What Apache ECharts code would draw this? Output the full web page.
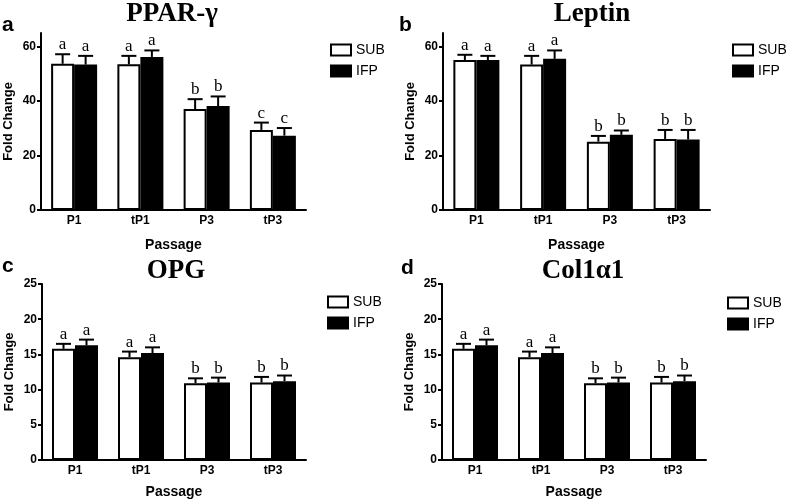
<!DOCTYPE html>
<html><head><meta charset="utf-8">
<script src="https://cdn.jsdelivr.net/npm/echarts@6/dist/echarts.min.js"></script>
<style>html,body{margin:0;padding:0;background:#fff}#c{width:787px;height:503px}</style>
</head><body><div id="c"></div>
<script>
// ---- data ----
const categories = ['P1', 'tP1', 'P3', 'tP3'];
const seriesNames = ['SUB', 'IFP'];

const pparSub = [53.7, 53.5, 37.1, 29.4];
const pparSubErr = [3.5, 3.1, 3.6, 2.7];
const pparIfp = [53.4, 56.2, 38.2, 27.3];
const pparIfpErr = [3.2, 2.4, 3.5, 2.8];
const pparLetters = ['a', 'a', 'b', 'c'];

const leptinSub = [55.1, 53.4, 25.1, 26.1];
const leptinSubErr = [1.9, 3.2, 2.1, 3.3];
const leptinIfp = [55.1, 55.5, 27.6, 25.9];
const leptinIfpErr = [1.5, 3.1, 1.6, 3.5];
const leptinLetters = ['a', 'a', 'b', 'b'];

const opgSub = [15.8, 14.6, 10.9, 11.0];
const opgSubErr = [0.7, 0.8, 0.7, 0.8];
const opgIfp = [16.3, 15.2, 11.0, 11.2];
const opgIfpErr = [0.8, 0.8, 0.7, 0.8];
const opgLetters = ['a', 'a', 'b', 'b'];

const colSub = [15.8, 14.6, 10.9, 11.0];
const colSubErr = [0.7, 0.8, 0.7, 0.8];
const colIfp = [16.3, 15.2, 11.0, 11.2];
const colIfpErr = [0.8, 0.8, 0.7, 0.8];
const colLetters = ['a', 'a', 'b', 'b'];

const ticksLarge = [0, 20, 40, 60];
const ticksSmall = [0, 5, 10, 15, 20, 25];

// ---- layout ----
const SANS = 'Liberation Sans';
const SERIF = 'Liberation Serif';
const BAR_W = 23;

const panels = [
  { title: 'PPAR-γ', letter: 'a', sub: pparSub, subErr: pparSubErr, ifp: pparIfp, ifpErr: pparIfpErr, letters: pparLetters,
    max: 65, ticks: ticksLarge, grid: { left: 41, top: 33, width: 265, height: 177 },
    titlePos: [172, 14], letterPos: [2, 36], legendPos: [325, 38] },
  { title: 'Leptin', letter: 'b', sub: leptinSub, subErr: leptinSubErr, ifp: leptinIfp, ifpErr: leptinIfpErr, letters: leptinLetters,
    max: 65, ticks: ticksLarge, grid: { left: 443, top: 33, width: 267, height: 177 },
    titlePos: [592, 14], letterPos: [399, 36], legendPos: [727, 38] },
  { title: 'OPG', letter: 'c', sub: opgSub, subErr: opgSubErr, ifp: opgIfp, ifpErr: opgIfpErr, letters: opgLetters,
    max: 25, ticks: ticksSmall, grid: { left: 42, top: 284, width: 264, height: 176 },
    titlePos: [176, 271], letterPos: [2, 277], legendPos: [322, 290] },
  { title: 'Col1α1', letter: 'd', sub: colSub, subErr: colSubErr, ifp: colIfp, ifpErr: colIfpErr, letters: colLetters,
    max: 25, ticks: ticksSmall, grid: { left: 442, top: 284, width: 264, height: 176 },
    titlePos: [583, 271], letterPos: [401, 279], legendPos: [722, 291] }
];

function errRender(sign, letters) {
  return function (params, api) {
    const i = api.value(0), v = api.value(1), e = api.value(2);
    const b = api.coord([i, v]);
    const t = api.coord([i, v + e]);
    const x = b[0] + sign * BAR_W / 2;
    const st = { stroke: '#000', lineWidth: 2 };
    return {
      type: 'group',
      children: [
        { type: 'line', shape: { x1: x, y1: b[1], x2: x, y2: t[1] }, style: st },
        { type: 'line', shape: { x1: x - 7.5, y1: t[1], x2: x + 7.5, y2: t[1] }, style: st },
        { type: 'text', x: x, y: t[1] - 1,
          style: { text: letters[params.dataIndex], fill: '#000', font: '17px "' + SERIF + '"',
                   textAlign: 'center', textVerticalAlign: 'bottom' } }
      ]
    };
  };
}

const option = {
  animation: false,
  backgroundColor: '#fff',
  grid: [], xAxis: [], yAxis: [], series: [], legend: [], graphic: []
};

panels.forEach((p, k) => {
  option.grid.push(Object.assign({ containLabel: false }, p.grid));
  option.xAxis.push({
    type: 'category', gridIndex: k, data: categories,
    axisLine: { lineStyle: { color: '#000', width: 2 } },
    axisTick: { alignWithLabel: true, length: 3, lineStyle: { color: '#000', width: 2 } },
    axisLabel: { color: '#000', fontFamily: SANS, fontWeight: 'bold', fontSize: 12, margin: 5 },
    name: 'Passage', nameLocation: 'middle', nameGap: k < 2 ? 28 : 25,
    nameTextStyle: { color: '#000', fontFamily: SANS, fontWeight: 'bold', fontSize: 14 }
  });
  option.yAxis.push({
    type: 'value', gridIndex: k, min: 0, max: p.max,
    splitLine: { show: false },
    axisLine: { show: true, lineStyle: { color: '#000', width: 2 } },
    axisTick: { show: true, length: 4, customValues: p.ticks, lineStyle: { color: '#000', width: 2 } },
    axisLabel: { color: '#000', fontFamily: SANS, fontWeight: 'bold', fontSize: 12, margin: 5, customValues: p.ticks },
    name: 'Fold Change', nameLocation: 'middle', nameGap: 26,
    nameTextStyle: { color: '#000', fontFamily: SANS, fontWeight: 'bold', fontSize: 13 }
  });
  option.series.push(
    { type: 'bar', name: seriesNames[0], xAxisIndex: k, yAxisIndex: k, data: p.sub, barWidth: BAR_W, barGap: '0%',
      itemStyle: { color: '#fff', borderColor: '#000', borderWidth: 2 } },
    { type: 'bar', name: seriesNames[1], xAxisIndex: k, yAxisIndex: k, data: p.ifp, barWidth: BAR_W, barGap: '0%',
      itemStyle: { color: '#000', borderColor: '#000', borderWidth: 2 } },
    { type: 'custom', xAxisIndex: k, yAxisIndex: k, z: 5,
      data: p.sub.map((v, i) => [i, v, p.subErr[i]]), renderItem: errRender(-1, p.letters) },
    { type: 'custom', xAxisIndex: k, yAxisIndex: k, z: 5,
      data: p.ifp.map((v, i) => [i, v, p.ifpErr[i]]), renderItem: errRender(1, p.letters) }
  );
  option.legend.push({
    orient: 'vertical', left: p.legendPos[0], top: p.legendPos[1],
    itemWidth: 20, itemHeight: 11, itemGap: 7, icon: 'rect',
    selectedMode: false,
    textStyle: { color: '#000', fontFamily: SANS, fontSize: 14, padding: [0, 0, 0, 0] },
    data: [
      { name: seriesNames[0], itemStyle: { color: '#fff', borderColor: '#000', borderWidth: 2 } },
      { name: seriesNames[1], itemStyle: { color: '#000', borderColor: '#000', borderWidth: 2 } }
    ]
  });
  option.graphic.push(
    { type: 'text', x: p.titlePos[0], y: p.titlePos[1],
      style: { text: p.title, fill: '#000', font: 'bold 27px "' + SERIF + '"', textAlign: 'center', textVerticalAlign: 'middle' } },
    { type: 'text', x: p.letterPos[0], y: p.letterPos[1],
      style: { text: p.letter, fill: '#000', font: 'bold 21px "' + SANS + '"', textAlign: 'left', textVerticalAlign: 'bottom' } }
  );
});

const chart = echarts.init(document.getElementById('c'), null, { renderer: 'canvas' });
chart.setOption(option);
</script>
</body></html>
